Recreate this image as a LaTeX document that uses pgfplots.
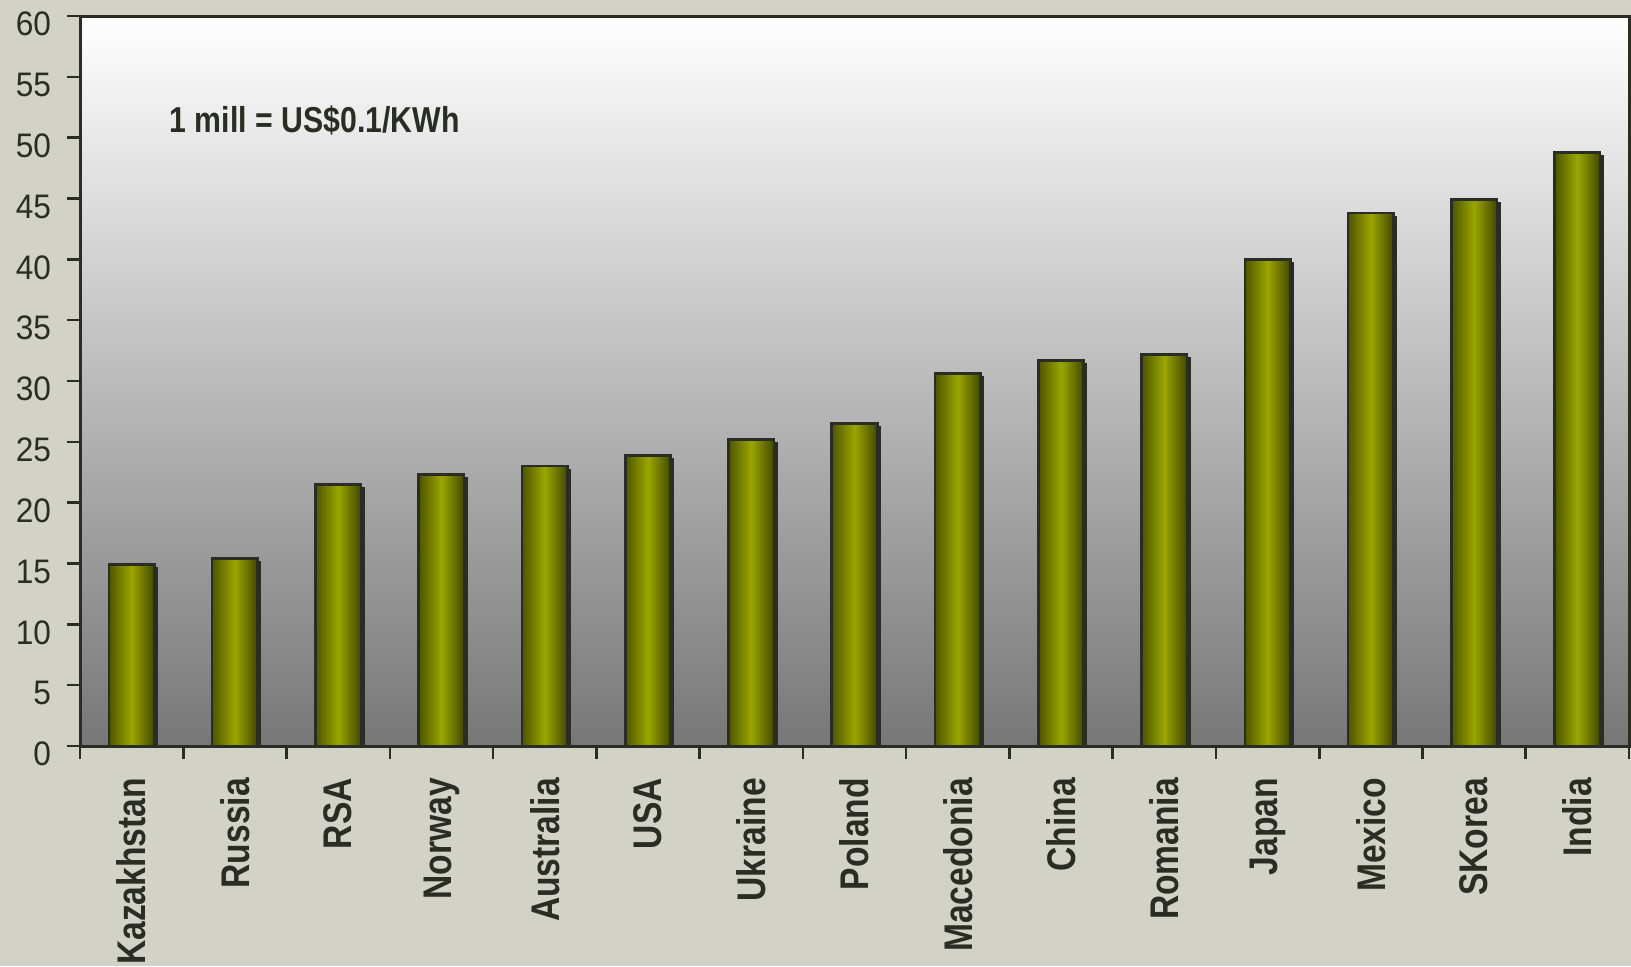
\documentclass[border=0pt]{standalone}
\usepackage{pgfplots}
\pgfplotsset{compat=1.18}
\usepackage{fontspec}
\setmainfont{Liberation Sans}
\newfontfamily\narrowfont[FakeStretch=0.84]{Liberation Sans}
\newfontfamily\tickfont[FakeStretch=0.93]{Liberation Sans}
\usetikzlibrary{shadows}

\definecolor{bgbeige}{HTML}{D2D2C6}
\definecolor{plotgray}{HTML}{777777}
\definecolor{txt}{HTML}{2A2D24}
\definecolor{olivedark}{HTML}{4E5500}
\definecolor{olivelight}{HTML}{9AA600}
\definecolor{shadowolive}{HTML}{5A6200}

% one bar per plot, so that each bar gets its own cylinder shading
\pgfplotsset{cyl/.style={ybar, bar width=0.44, bar shift=0pt, draw=txt, line width=1.3pt,
    left color=olivedark, right color=olivedark!85!black, middle color=olivelight,
    drop shadow={shadow xshift=1.2pt, shadow yshift=-2pt, fill=shadowolive, opacity=1}}}

\begin{document}
\begin{tikzpicture}
    % page background, also fixes the picture size
    \path[fill=bgbeige, use as bounding box] (0,0) rectangle (815.5pt,483pt);
    \begin{axis}[
        at={(40pt,110pt)}, anchor=south west,
        scale only axis,
        width=774.5pt, height=365pt,
        axis background/.style={shade, top color=white, bottom color=plotgray},
        axis line style={txt, line width=1.5pt},
        xmin=-0.5, xmax=14.5,
        ymin=0, ymax=60,
        ytick={0,5,...,60},
        xtick={0,...,14},
        xticklabels={Kazakhstan,Russia,RSA,Norway,Australia,USA,Ukraine,Poland,Macedonia,China,Romania,Japan,Mexico,SKorea,India},
        minor xtick={-0.5,0.5,...,14.5},
        major x tick style={draw=none},
        tick align=outside,
        xtick pos=bottom, ytick pos=left,
        major tick length=6.5pt, minor tick length=6.5pt,
        tick style={txt, line width=1.3pt},
        /pgf/number format/assume math mode=true,
        yticklabel style={font=\tickfont\fontsize{17}{18}\selectfont, text=txt, yshift=-4pt, xshift=-4.5pt},
        xticklabel style={rotate=90, anchor=east, font=\narrowfont\bfseries\fontsize{20}{22}\selectfont, text=txt},
        xticklabel shift=6pt,
        ]
        \addplot[cyl] coordinates {(0,14.9)};
        \addplot[cyl] coordinates {(1,15.4)};
        \addplot[cyl] coordinates {(2,21.5)};
        \addplot[cyl] coordinates {(3,22.3)};
        \addplot[cyl] coordinates {(4,23.0)};
        \addplot[cyl] coordinates {(5,23.9)};
        \addplot[cyl] coordinates {(6,25.2)};
        \addplot[cyl] coordinates {(7,26.5)};
        \addplot[cyl] coordinates {(8,30.6)};
        \addplot[cyl] coordinates {(9,31.7)};
        \addplot[cyl] coordinates {(10,32.2)};
        \addplot[cyl] coordinates {(11,40.0)};
        \addplot[cyl] coordinates {(12,43.8)};
        \addplot[cyl] coordinates {(13,44.9)};
        \addplot[cyl] coordinates {(14,48.8)};
        \node[anchor=west, text=txt, font=\narrowfont\bfseries\fontsize{18}{20}\selectfont]
            at (axis cs:0.3,51.45) {1 mill = US\$0.1/KWh};
    \end{axis}
\end{tikzpicture}
\end{document}
